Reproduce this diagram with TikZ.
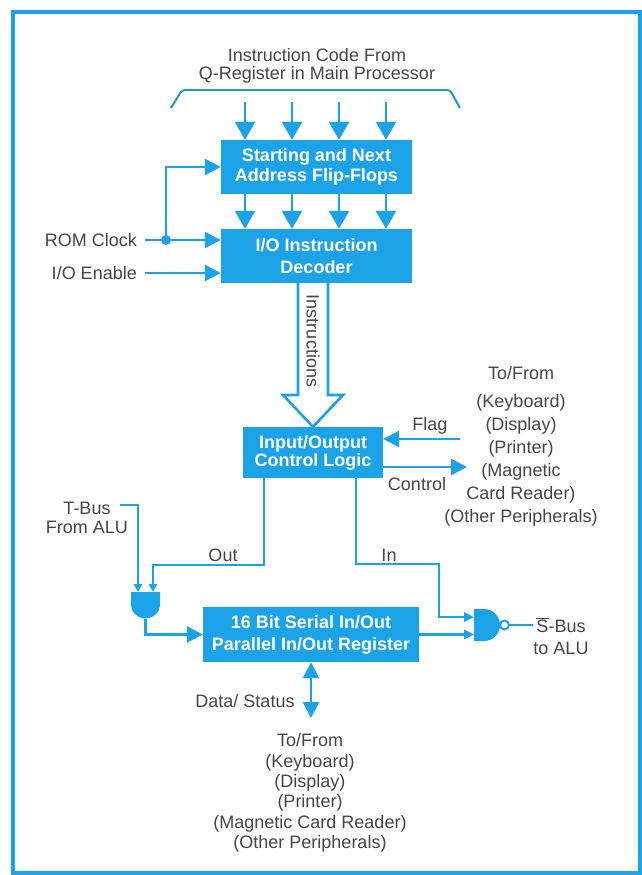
\documentclass[tikz,border=0pt]{standalone}
\usepackage{fontspec}
\setmainfont{Liberation Sans}
\usetikzlibrary{arrows.meta}
\definecolor{hpblue}{RGB}{28,162,230}
\definecolor{bracecol}{RGB}{40,150,190}
\definecolor{txt}{RGB}{70,70,70}
\begin{document}
\begin{tikzpicture}[x=1pt,y=-1pt,
  blk/.style={fill=hpblue, text=white, align=center, inner sep=0pt,
    font=\fontsize{18}{21}\selectfont\bfseries},
  lbl/.style={text=txt, align=center, inner sep=0pt,
    font=\fontsize{18}{21}\selectfont},
  wire/.style={draw=hpblue, line width=2.6pt},
  arr/.style={wire, -{Triangle[length=16pt,width=16pt]}},
  bigarr/.style={wire, -{Triangle[length=18pt,width=20pt]}},
  medarr/.style={wire, -{Triangle[length=10pt,width=9pt]}},
  smallarr/.style={wire, -{Triangle[length=8pt,width=8pt]}},
]
\useasboundingbox (0,0) rectangle (642,875);
\fill[white] (0,0) rectangle (642,875);
\draw[hpblue, line width=4pt] (13,12) rectangle (640,873);

% top label and brace
\node[lbl, font=\fontsize{18}{18}\selectfont] (qreg) at (317,66) {Instruction Code From\\Q-Register in Main Processor};
\draw[bracecol, line width=2pt, rounded corners=3pt] (171,108) -- (182,90) -- (450,90) -- (460,108);

% blocks
\node[blk, minimum width=191pt, minimum height=54pt, font=\fontsize{18}{20}\selectfont\bfseries] (sa) at (316.5,167) {Starting and Next\\Address Flip-Flops};
\node[blk, minimum width=191pt, minimum height=54pt, font=\fontsize{18}{22}\selectfont\bfseries] (dec) at (316.5,256) {I/O Instruction\\Decoder};
\node[blk, minimum width=140pt, minimum height=51pt, font=\fontsize{18}{18}\selectfont\bfseries] (ctl) at (313,452.5) {Input/Output\\Control Logic};
\node[blk, minimum width=216pt, minimum height=55pt, font=\fontsize{18}{22}\selectfont\bfseries] (reg) at (311,634.5) {16 Bit Serial In/Out\\Parallel In/Out Register};

% four instruction bits
\foreach \i/\xx in {1/245,2/292,3/339,4/386}{
  \coordinate (q\i) at (\xx,102);
  \draw[bigarr] (q\i) -- (q\i |- sa.north);
  \draw[bigarr] (sa.south -| q\i) -- (dec.north -| q\i);
}

% ROM clock and I/O enable
\node[lbl, anchor=east] (rom) at (137,240) {ROM Clock};
\coordinate (romA) at (145,240);
\coordinate (dot) at (166,240);
\draw[arr] (romA) -- (romA -| dec.west);
\fill[hpblue] (dot) circle[radius=5pt];
\draw[arr] (dot) |- (sa.west);
\node[lbl, anchor=east] (ioe) at (137,273) {I/O Enable};
\coordinate (ioeA) at (145,273);
\draw[arr] (ioeA) -- (ioeA -| dec.west);

% hollow Instructions arrow
\draw[wire, fill=white, line join=miter] (298,283) -- (298,395) -- (283,395) -- (ctl.north) -- (343,395) -- (328,395) -- (328,283);
\node[lbl, rotate=-90] (instr) at (313,341) {Instructions};

% flag and control
\coordinate (flagA) at (460,439);
\draw[arr] (flagA) -- (flagA -| ctl.east);
\node[lbl] (flag) at (430,426) {Flag};
\coordinate (ctlB) at (467,467);
\draw[arr] (ctlB -| ctl.east) -- (ctlB);
\node[lbl] (control) at (417,484) {Control};

% right peripherals list
\node[lbl] (tofrom1) at (521,373) {To/From};
\node[lbl, font=\fontsize{18}{23}\selectfont] (per1) at (521,460.5) {(Keyboard)\\(Display)\\(Printer)\\(Magnetic\\Card Reader)\\(Other Peripherals)};

% T-Bus and AND gate
\node[lbl, font=\fontsize{18}{19}\selectfont] (tbus) at (87,517.5) {T-Bus\\From ALU};
\coordinate (tb1) at (120,505);
\coordinate (tb2) at (138,505);
\coordinate (andin1) at (138,592);
\coordinate (andin2) at (153,592);
\coordinate (andbot) at (145.5,618.5);
\draw[smallarr] (tb1) -- (tb2) -- (andin1);
\coordinate (outx) at (264,565);
\draw[smallarr] (ctl.south -| outx) -- (outx) -| (andin2);
\node[lbl] (out) at (223,555) {Out};
\fill[hpblue] (131,592) -- (160,592) -- (160,604) arc[start angle=0, end angle=-180, radius=14.5pt] -- cycle;
\draw[arr] (andbot) |- (reg.west);

% In and NAND gate
\coordinate (inx) at (356,564);
\coordinate (inturn) at (439,564);
\coordinate (nandin1) at (474,617);
\coordinate (nandin2) at (474,634.5);
\draw[medarr] (ctl.south -| inx) -- (inx) -- (inturn) |- (nandin1);
\node[lbl] (in) at (389,555) {In};
\draw[medarr] (reg.east) -- (nandin2);
\fill[hpblue] (474,609) -- (484,609) arc[start angle=90, end angle=-90, radius=16pt] -- (474,641) -- cycle;
\draw[hpblue, line width=2pt, fill=white] (504.5,625) circle[radius=4.5pt];
\coordinate (nout) at (509,625);
\coordinate (sbusA) at (533,625);
\draw[wire] (nout) -- (sbusA);
\node[lbl, font=\fontsize{18}{22}\selectfont] (sbus) at (561,636) {$\overline{\hbox{S}}$-Bus\\to ALU};

% Data / Status
\coordinate (dsend) at (311,718);
\draw[wire, {Triangle[length=16pt,width=16pt]}-{Triangle[length=16pt,width=16pt]}] (reg.south) -- (dsend);
\node[lbl] (ds) at (245,701) {Data/ Status};
\node[lbl, font=\fontsize{18}{20.4}\selectfont] (per2) at (310,793) {To/From\\(Keyboard)\\(Display)\\(Printer)\\(Magnetic Card Reader)\\(Other Peripherals)};
\end{tikzpicture}
\end{document}
